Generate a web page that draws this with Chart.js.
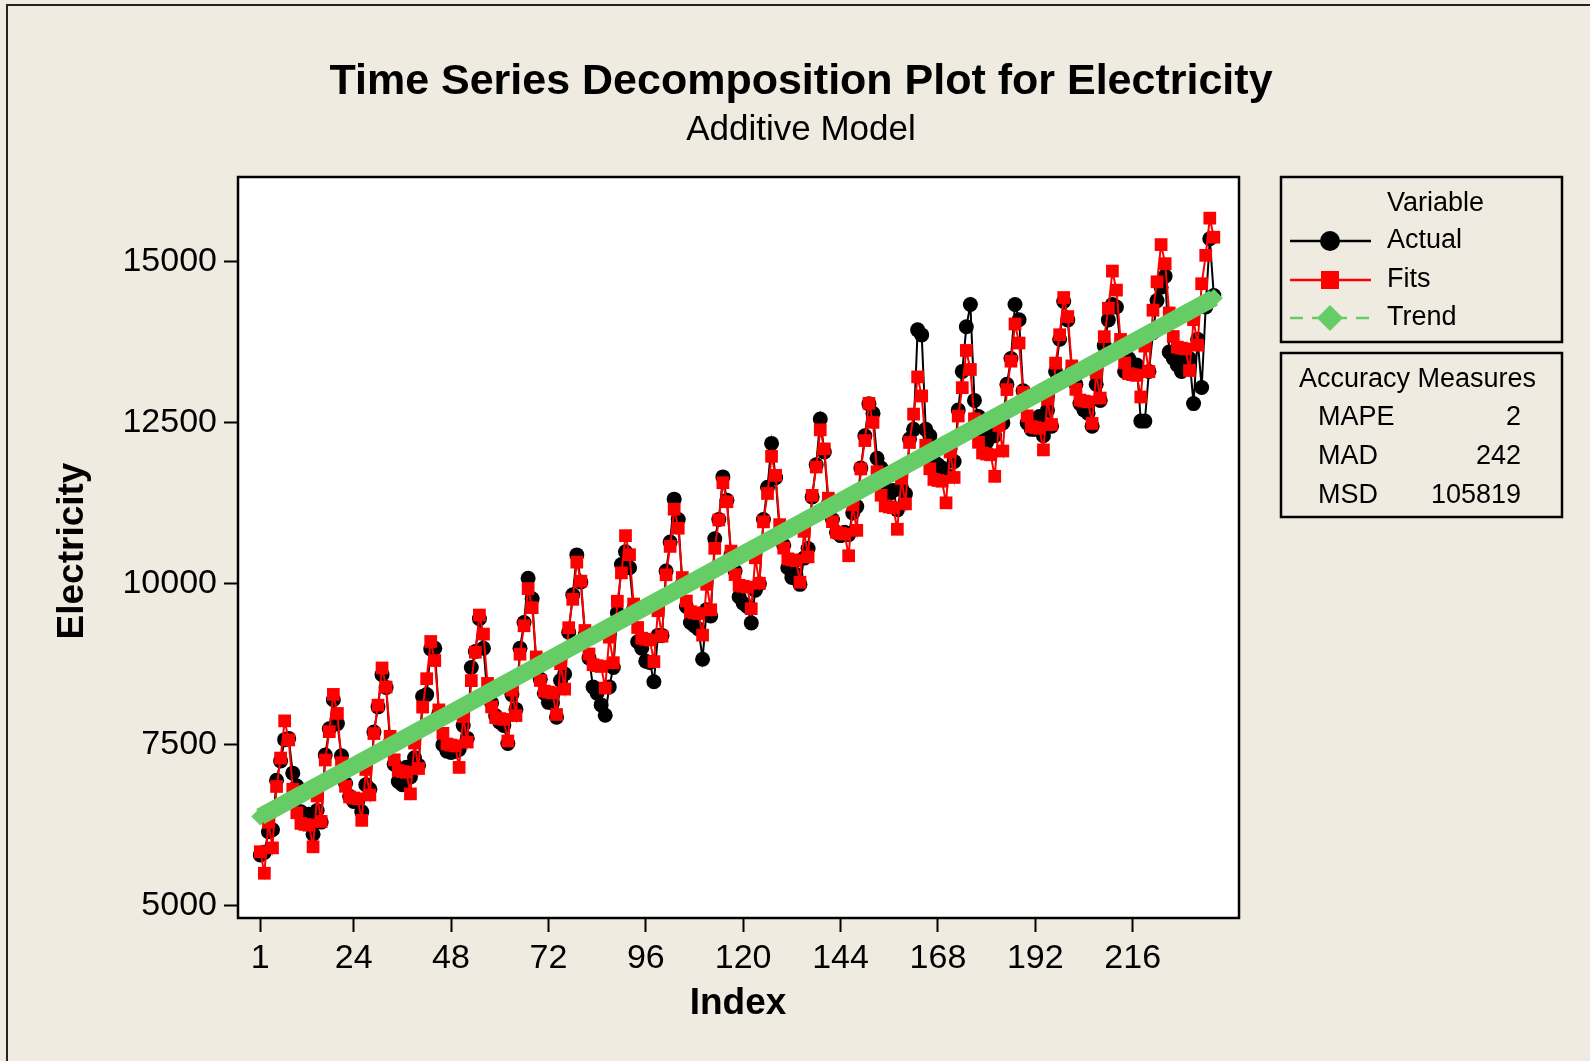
<!DOCTYPE html>
<html>
<head>
<meta charset="utf-8">
<title>Time Series Decomposition Plot for Electricity</title>
<script src="https://cdn.jsdelivr.net/npm/chart.js"></script>
<style>
  html, body { margin: 0; padding: 0; background: #efebe0; }
  canvas { display: block; }
</style>
</head>
<body>
<canvas id="decompChart" width="1590" height="1061"></canvas>
<script>
// values, one row per 12 months
const actual = [
  5790, 5830, 6150, 6180, 6950, 7250, 7580, 7600, 7060, 6860, 6460, 6400,
  6420, 6110, 6480, 6300, 7340, 7750, 8200, 7830, 7330, 6900, 6700, 6620,
  6620, 6460, 6880, 6810, 7700, 8090, 8590, 8390, 7530, 7200, 6930, 6880,
  7150, 7000, 7300, 7180, 8250, 8280, 8990, 9000, 7990, 7500, 7400, 7380,
  7400, 7430, 7800, 7600, 8700, 8950, 9460, 9000, 8250, 8150, 7950, 7850,
  7800, 7520, 8280, 8050, 9000, 9400, 10087, 9770, 8750, 8520, 8300, 8160,
  8150, 7930, 8500, 8600, 9250, 9830, 10450, 10030, 9200, 8850, 8400, 8300,
  8120, 7960, 8400, 8700, 9550, 10300, 10500, 10250, 9600, 9100, 9000, 8800,
  8780, 8480, 9200, 9200, 10200, 10650, 11316, 11000, 10000, 9650, 9400, 9350,
  9300, 8830, 9600, 9500, 10700, 11000, 11662, 11300, 10450, 10200, 9800, 9700,
  9650, 9394, 9900, 10000, 11000, 11500, 12182, 11650, 10800, 10600, 10250, 10100,
  10150, 9993, 10400, 10550, 11350, 11850, 12560, 12050, 11250, 11000, 10800, 10750,
  10800, 10765, 11100, 11200, 11800, 12300, 12796, 12650, 11950, 11800, 11500, 11400,
  11450, 11150, 11500, 11400, 12250, 12400, 13946, 13867, 12400, 12300, 11900, 11850,
  11800, 11700, 12100, 11900, 12700, 13300, 13993, 14340, 12850, 12600, 12300, 12200,
  12500, 12300, 12600, 12500, 13100, 13500, 14340, 14103, 13000, 12500, 12400, 12400,
  12600, 12300, 12700, 12450, 13300, 13800, 14387, 14100, 13300, 13100, 12800, 12700,
  12650, 12450, 13100, 12850, 13700, 14100, 14340, 14300, 13700, 13300, 13500, 13400,
  13400, 12528, 12528, 13300, 13900, 14400, 14608, 14781, 13600, 13500, 13400, 13300,
  13500, 13500, 12800, 13800, 13050, 14300, 15360, 14480
];
const fits = [
  5840, 5505, 6295, 5899, 6853, 7294, 7872, 7576, 6810, 6445, 6279, 6263,
  6251, 5916, 6706, 6310, 7264, 7705, 8283, 7987, 7221, 6856, 6690, 6674,
  6662, 6327, 7117, 6721, 7675, 8116, 8694, 8398, 7632, 7267, 7101, 7085,
  7073, 6738, 7528, 7132, 8086, 8527, 9105, 8809, 8043, 7678, 7512, 7496,
  7484, 7149, 7939, 7543, 8497, 8938, 9516, 9220, 8454, 8089, 7923, 7907,
  7895, 7560, 8350, 7954, 8908, 9349, 9927, 9631, 8865, 8500, 8334, 8318,
  8306, 7971, 8761, 8365, 9319, 9760, 10338, 10042, 9276, 8911, 8745, 8729,
  8717, 8382, 9172, 8776, 9730, 10171, 10749, 10453, 9687, 9322, 9156, 9140,
  9128, 8793, 9583, 9187, 10141, 10582, 11160, 10864, 10098, 9733, 9567, 9551,
  9539, 9204, 9994, 9598, 10552, 10993, 11571, 11275, 10509, 10144, 9978, 9962,
  9950, 9615, 10405, 10009, 10963, 11404, 11982, 11686, 10920, 10555, 10389, 10373,
  10361, 10026, 10816, 10420, 11374, 11815, 12393, 12097, 11331, 10966, 10800, 10784,
  10772, 10437, 11227, 10831, 11785, 12226, 12804, 12508, 11742, 11377, 11211, 11195,
  11183, 10848, 11638, 11242, 12196, 12637, 13215, 12919, 12153, 11788, 11622, 11606,
  11594, 11259, 12049, 11653, 12607, 13048, 13626, 13330, 12564, 12199, 12033, 12017,
  12005, 11670, 12460, 12064, 13018, 13459, 14037, 13741, 12975, 12610, 12444, 12428,
  12416, 12081, 12871, 12475, 13429, 13870, 14448, 14152, 13386, 13021, 12855, 12839,
  12827, 12492, 13282, 12886, 13840, 14281, 14859, 14563, 13797, 13432, 13266, 13250,
  13238, 12903, 13693, 13297, 14251, 14692, 15270, 14974, 14208, 13843, 13677, 13661,
  13649, 13314, 14104, 13708, 14662, 15103, 15681, 15385
];
// linear trend, read at its two ends
const trendIndex = [1, 236];
const trendValues = [6386, 14440];

const xTicks = [1, 24, 48, 72, 96, 120, 144, 168, 192, 216];
const yTicks = [5000, 7500, 10000, 12500, 15000];

const legendNames = ['Actual', 'Fits', 'Trend'];
const accuracyNames = ['MAPE', 'MAD', 'MSD'];
const accuracyValues = ['2', '242', '105819'];

const BG = '#efebe0';
const GREEN = '#66cc66';
const FONT = '"Liberation Sans", "DejaVu Sans", sans-serif';

function toPoints(vals) {
  return vals.map((v, i) => ({ x: i + 1, y: v }));
}

// background, plot frame, titles and the two legend boxes
const decor = {
  id: 'decor',
  beforeDraw(chart) {
    const ctx = chart.ctx;
    const a = chart.chartArea;
    ctx.save();
    ctx.fillStyle = BG;
    ctx.fillRect(0, 0, chart.width, chart.height);
    ctx.fillStyle = '#fff';
    ctx.fillRect(a.left, a.top, a.right - a.left, a.bottom - a.top);
    ctx.restore();
  },
  afterDraw(chart) {
    const ctx = chart.ctx;
    const a = chart.chartArea;
    ctx.save();

    // outer border of the picture
    ctx.strokeStyle = '#222';
    ctx.lineWidth = 2;
    ctx.beginPath();
    ctx.moveTo(7, 1061); ctx.lineTo(7, 5); ctx.lineTo(1590, 5);
    ctx.stroke();

    // plot frame
    ctx.strokeStyle = '#000';
    ctx.lineWidth = 2.5;
    ctx.strokeRect(a.left, a.top, a.right - a.left, a.bottom - a.top);

    // titles
    ctx.fillStyle = '#000';
    ctx.textAlign = 'center';
    ctx.textBaseline = 'middle';
    ctx.font = 'bold 43px ' + FONT;
    ctx.fillText('Time Series Decomposition Plot for Electricity', 801, 82);
    ctx.font = '35px ' + FONT;
    ctx.fillText('Additive Model', 801, 130);

    // axis titles
    ctx.font = 'bold 37px ' + FONT;
    ctx.fillText('Index', 738, 1004);
    ctx.save();
    ctx.translate(73, 551);
    ctx.rotate(-Math.PI / 2);
    ctx.fillText('Electricity', 0, 0);
    ctx.restore();

    // legend box
    ctx.lineWidth = 2.5;
    ctx.strokeRect(1281, 177, 281, 165);
    ctx.strokeRect(1281, 353, 281, 164);

    ctx.font = '27px ' + FONT;
    ctx.textAlign = 'left';
    ctx.fillText('Variable', 1387, 204);
    const rows = [241, 280, 318];
    legendNames.forEach((name, i) => {
      const y = rows[i];
      ctx.fillStyle = '#000';
      ctx.fillText(name, 1387, y);
    });
    // Actual
    ctx.strokeStyle = '#000';
    ctx.lineWidth = 2.5;
    ctx.setLineDash([]);
    ctx.beginPath(); ctx.moveTo(1290, 241); ctx.lineTo(1371, 241); ctx.stroke();
    ctx.fillStyle = '#000';
    ctx.beginPath(); ctx.arc(1330, 241, 10, 0, Math.PI * 2); ctx.fill();
    // Fits
    ctx.strokeStyle = '#ff0000';
    ctx.beginPath(); ctx.moveTo(1290, 280); ctx.lineTo(1371, 280); ctx.stroke();
    ctx.fillStyle = '#ff0000';
    ctx.fillRect(1321, 271, 18, 18);
    // Trend
    ctx.strokeStyle = GREEN;
    ctx.setLineDash([13, 9]);
    ctx.beginPath(); ctx.moveTo(1290, 318); ctx.lineTo(1371, 318); ctx.stroke();
    ctx.setLineDash([]);
    ctx.fillStyle = GREEN;
    ctx.beginPath();
    ctx.moveTo(1330, 305); ctx.lineTo(1343, 318); ctx.lineTo(1330, 331); ctx.lineTo(1317, 318);
    ctx.closePath(); ctx.fill();

    // accuracy measures
    ctx.fillStyle = '#000';
    ctx.font = '27px ' + FONT;
    ctx.fillText('Accuracy Measures', 1299, 380);
    accuracyNames.forEach((name, i) => {
      const y = 418 + i * 39;
      ctx.textAlign = 'left';
      ctx.fillText(name, 1318, y);
      ctx.textAlign = 'right';
      ctx.fillText(accuracyValues[i], 1521, y);
    });

    ctx.restore();
  }
};

const ctx = document.getElementById('decompChart').getContext('2d');
const chart = new Chart(ctx, {
  type: 'line',
  data: {
    datasets: [{
      label: 'Trend',
      data: trendIndex.map((x, i) => ({ x: x, y: trendValues[i] })),
      borderColor: GREEN,
      backgroundColor: GREEN,
      borderWidth: 17,
      pointStyle: 'rectRot',
      pointRadius: 9,
      pointBorderWidth: 0,
      order: 0
    }, {
      label: 'Fits',
      data: toPoints(fits),
      borderColor: '#ff0000',
      backgroundColor: '#ff0000',
      borderWidth: 2,
      pointStyle: 'rect',
      pointRadius: 9,
      pointBorderWidth: 0,
      order: 1
    }, {
      label: 'Actual',
      data: toPoints(actual),
      borderColor: '#000',
      backgroundColor: '#000',
      borderWidth: 2,
      pointStyle: 'circle',
      pointRadius: 7.5,
      pointBorderWidth: 0,
      order: 2
    }]
  },
  options: {
    responsive: false,
    animation: false,
    layout: { padding: { top: 177, right: 351, bottom: 0, left: 0 } },
    plugins: {
      legend: { display: false },
      tooltip: { enabled: false }
    },
    scales: {
      x: {
        type: 'linear',
        min: -4.5,
        max: 242.2,
        afterFit: s => { s.height = 143; },
        afterBuildTicks: s => { s.ticks = xTicks.map(v => ({ value: v })); },
        grid: { drawOnChartArea: false, drawTicks: true, tickLength: 14, tickColor: '#000', tickWidth: 2 },
        border: { display: false },
        ticks: { color: '#000', font: { family: FONT, size: 34 }, padding: 6, maxRotation: 0, autoSkip: false }
      },
      y: {
        min: 4810,
        max: 16320,
        afterFit: s => { s.width = 238; },
        afterBuildTicks: s => { s.ticks = yTicks.map(v => ({ value: v })); },
        grid: { drawOnChartArea: false, drawTicks: true, tickLength: 14, tickColor: '#000', tickWidth: 2 },
        border: { display: false },
        ticks: { color: '#000', font: { family: FONT, size: 34 }, padding: 7, callback: v => String(v) }
      }
    }
  },
  plugins: [decor]
});
</script>
</body>
</html>
